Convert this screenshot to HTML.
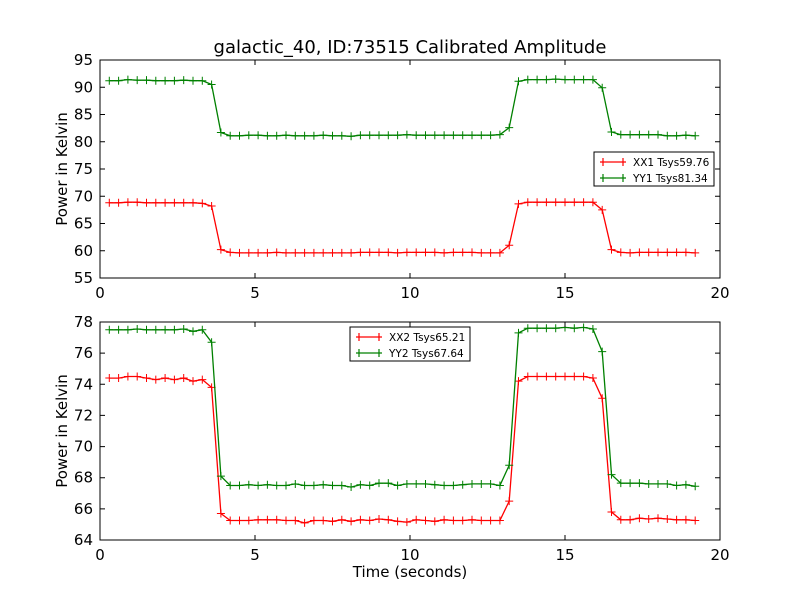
<!DOCTYPE html>
<html><head><meta charset="utf-8"><style>
body{margin:0;background:#fff}
svg{display:block;font-family:"DejaVu Sans","Liberation Sans",sans-serif}
</style></head><body>
<svg id="chart" width="800" height="600" xmlns="http://www.w3.org/2000/svg">
<rect width="800" height="600" fill="#ffffff"/>
<text x="410" y="53" font-size="18" text-anchor="middle">galactic_40, ID:73515 Calibrated Amplitude</text>
</svg>
<script>
const times = Array.from({length:64},(_,i)=>+(0.3*(i+1)).toFixed(1));
const xx1 = [68.8,68.8,68.9,68.9,68.8,68.8,68.8,68.8,68.8,68.8,68.7,68.2,60.2,59.7,59.6,59.6,59.6,59.6,59.7,59.6,59.6,59.6,59.6,59.6,59.6,59.6,59.6,59.7,59.7,59.7,59.7,59.6,59.7,59.7,59.7,59.7,59.6,59.7,59.7,59.7,59.6,59.6,59.6,61.0,68.6,68.9,68.9,68.9,68.9,68.9,68.9,68.9,68.9,67.5,60.2,59.7,59.6,59.7,59.7,59.7,59.7,59.7,59.7,59.6];
const yy1 = [91.2,91.2,91.4,91.3,91.3,91.2,91.2,91.2,91.3,91.2,91.2,90.5,81.7,81.1,81.1,81.2,81.2,81.1,81.1,81.2,81.1,81.1,81.1,81.2,81.1,81.1,81.0,81.2,81.2,81.2,81.2,81.2,81.3,81.2,81.2,81.2,81.2,81.2,81.2,81.2,81.2,81.2,81.3,82.6,91.1,91.4,91.4,91.4,91.5,91.4,91.4,91.4,91.4,89.9,81.8,81.3,81.3,81.3,81.3,81.3,81.1,81.1,81.2,81.1];
const xx2 = [74.4,74.4,74.5,74.5,74.4,74.3,74.4,74.3,74.4,74.2,74.3,73.8,65.7,65.25,65.25,65.25,65.3,65.3,65.3,65.25,65.25,65.1,65.25,65.25,65.2,65.3,65.2,65.3,65.25,65.35,65.3,65.2,65.15,65.3,65.25,65.2,65.3,65.25,65.25,65.3,65.25,65.25,65.25,66.5,74.2,74.5,74.5,74.5,74.5,74.5,74.5,74.5,74.4,73.1,65.8,65.3,65.3,65.4,65.35,65.4,65.35,65.3,65.3,65.25];
const yy2 = [77.5,77.5,77.5,77.55,77.5,77.5,77.5,77.5,77.55,77.4,77.5,76.7,68.1,67.5,67.5,67.55,67.5,67.55,67.5,67.5,67.6,67.5,67.5,67.55,67.5,67.5,67.4,67.55,67.5,67.65,67.65,67.5,67.6,67.6,67.6,67.55,67.5,67.5,67.55,67.6,67.6,67.6,67.5,68.8,77.3,77.6,77.6,77.6,77.6,77.65,77.6,77.65,77.55,76.1,68.2,67.65,67.65,67.65,67.6,67.6,67.6,67.5,67.55,67.45];
const xTicks = [0,5,10,15,20];
const yTicksTop = [55,60,65,70,75,80,85,90,95];
const yTicksBot = [64,66,68,70,72,74,76,78];
const legendTop = ["XX1 Tsys59.76","YY1 Tsys81.34"];
const legendBot = ["XX2 Tsys65.21","YY2 Tsys67.64"];

const NS="http://www.w3.org/2000/svg";
const svg=document.getElementById('chart');
function mk(tag,attrs,parent){const e=document.createElementNS(NS,tag);for(const k in attrs)e.setAttribute(k,attrs[k]);(parent||svg).appendChild(e);return e;}

function panel(top,bottom,ymin,ymax,yTicks,series,legend,legBox,prefix,xlabel){
  const L=100,R=720;
  const xs=t=>L+(t-0)/(20-0)*(R-L);
  const ys=v=>bottom-(v-ymin)/(ymax-ymin)*(bottom-top);
  const g=mk('g',{});
  
  
  const bg=mk('rect',{x:L,y:top,width:R-L,height:bottom-top,fill:'#fff'},g);
  
  
  series.forEach(s=>{
    const sg=mk('g',{},g);
    
    
    const pts=times.map((t,i)=>xs(t).toFixed(1)+','+ys(s.vals[i]).toFixed(1)).join(' ');
    mk('polyline',{points:pts,fill:'none',stroke:s.color,'stroke-width':1.3},sg);
    times.forEach((t,i)=>{
      const x=xs(t),y=ys(s.vals[i]);
      const m=mk('path',{d:`M${x-4},${y}H${x+4}M${x},${y-4}V${y+4}`,stroke:s.color,'stroke-width':1},sg);
      
      
    });
  });
  mk('rect',{x:L,y:top,width:R-L,height:bottom-top,fill:'none',stroke:'#000','stroke-width':1},g);
  xTicks.forEach(t=>{
    const x=xs(t);
    mk('path',{d:`M${x},${bottom}v-5M${x},${top}v5`,stroke:'#000'},g);
    const tx=mk('text',{x:x,y:bottom+20,'font-size':15,'text-anchor':'middle'},g);
    tx.textContent=t;
    
    
  });
  yTicks.forEach(v=>{
    const y=ys(v);
    mk('path',{d:`M${L},${y}h5M${R},${y}h-5`,stroke:'#000'},g);
    const tx=mk('text',{x:L-7,y:y+5,'font-size':15,'text-anchor':'end'},g);
    tx.textContent=v;
    
    
  });
  const yl=mk('text',{x:0,y:0,'font-size':15,'text-anchor':'middle',transform:`translate(67,${(top+bottom)/2}) rotate(-90)`},g);
  yl.textContent='Power in Kelvin';
  
  
  if(xlabel){
    const xl=mk('text',{x:410,y:bottom+37,'font-size':15,'text-anchor':'middle'},g);
    xl.textContent=xlabel;
    
    
  }
  const lg=mk('g',{},g);
  
  
  mk('rect',{x:legBox.x,y:legBox.y,width:legBox.w,height:34,fill:'#fff',stroke:'#000','stroke-width':1},lg);
  legend.forEach((lab,i)=>{
    const y=legBox.y+10+i*16, x0=legBox.x+6, c=series[i].color;
    mk('path',{d:`M${x0},${y}h26M${x0+3},${y-4}v8M${x0+23},${y-4}v8`,stroke:c,'stroke-width':1.2},lg);
    const tx=mk('text',{x:x0+33,y:y+4,'font-size':10.5},lg);
    tx.textContent=lab;
    
    
  });
}
panel(60,278,55,95,yTicksTop,[{name:'xx1',vals:xx1,color:'#ff0000'},{name:'yy1',vals:yy1,color:'#008000'}],legendTop,{x:594,y:152,w:120},'top',null);
panel(322,540,64,78,yTicksBot,[{name:'xx2',vals:xx2,color:'#ff0000'},{name:'yy2',vals:yy2,color:'#008000'}],legendBot,{x:350,y:327,w:120},'bottom','Time (seconds)');
</script>
</body></html>
